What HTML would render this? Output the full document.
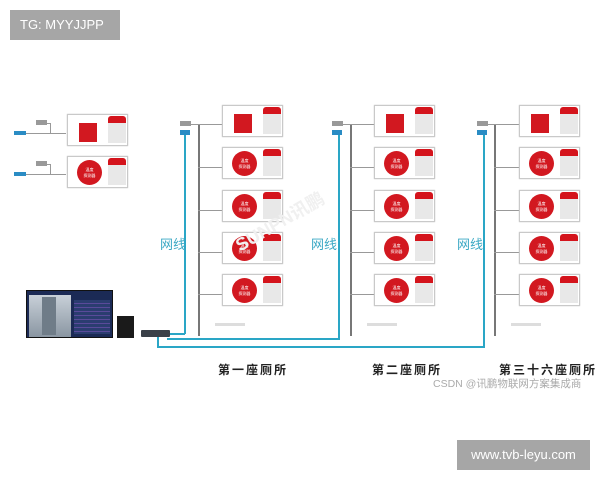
<!DOCTYPE html>
<html><head><meta charset="utf-8"><style>
body{margin:0;width:600px;height:480px;background:#fff;position:relative;overflow:hidden;font-family:"Liberation Sans","Noto Sans CJK SC",sans-serif}
div{position:absolute;box-sizing:border-box}
.box{width:61px;height:32px;border:1px solid #c9c9c9;background:#fff;box-shadow:0 0 1px #bbb}
.card{background:#e8e8e8;border-top:7px solid #d4141c;border-radius:3px 3px 0 0}
.circ{background:#d21820;border-radius:50%;color:#fff;font-size:4px;text-align:center;line-height:6px;padding-top:7px}
.sq{background:#d21820}
.vl{width:2px;background:#777}
.hl{height:1px;background:#999}
.blue{background:#2aa6c6}
.lbl{color:#3aa8c4;font-size:13px}
.cap{font-size:12px;letter-spacing:2px;color:#222;font-weight:bold}
</style></head><body>
<div style="left:10px;top:10px;width:110px;height:30px;background:#a6a6a6;color:#fff;font-size:13px;line-height:30px;padding-left:10px">TG: MYYJJPP</div>
<div style="left:457px;top:440px;width:133px;height:30px;background:#a6a6a6;color:#fff;font-size:13px;line-height:30px;text-align:center">www.tvb-leyu.com</div>

<div id="c"></div>

<!-- monitor -->
<div style="left:26px;top:290px;width:87px;height:48px;background:#1b2a55;border:1px solid #111"></div>
<div style="left:29px;top:295px;width:42px;height:42px;background:linear-gradient(#c8d0d8,#8a96a2)"></div>
<div style="left:42px;top:297px;width:14px;height:38px;background:#6f7c88"></div>
<div style="left:74px;top:300px;width:36px;height:34px;background:repeating-linear-gradient(#2b3d70 0 3px,#5a4a9a 3px 4px)"></div>
<div style="left:117px;top:316px;width:17px;height:22px;background:#1a1a1a"></div>
<div style="left:141px;top:330px;width:29px;height:7px;background:#3a4048;border-radius:1px"></div>

<div class="lbl" style="left:160px;top:234px">网线</div>
<div class="lbl" style="left:311px;top:234px">网线</div>
<div class="lbl" style="left:457px;top:234px">网线</div>
<div style="left:230px;top:208px;color:#f0f0f0;font-size:18px;font-weight:bold;transform:rotate(-30deg)">SUNPN讯鹏</div>

<div class="cap" style="left:218px;top:361px">第一座厕所</div>
<div class="cap" style="left:372px;top:361px">第二座厕所</div>
<div class="cap" style="left:499px;top:361px">第三十六座厕所</div>
<div style="left:433px;top:376px;color:#aaa;font-size:10.5px">CSDN @讯鹏物联网方案集成商</div>

<script>
var c=document.getElementById('c'),h='';
function d(cls,x,y,w,hh,extra,txt){h+='<div class="'+cls+'" style="left:'+x+'px;top:'+y+'px;width:'+w+'px;height:'+hh+'px;'+(extra||'')+'">'+(txt||'')+'</div>';}
function unit(x,y,sq){
 d('box',x,y,61,32);
 if(sq)d('sq',x+12,y+9,18,19);else d('circ',x+10,y+4,25,25,'','温度<br>探测器');
 d('card',x+41,y+2,18,27);
}
unit(67,114,true);unit(67,156,false);
[[131],[172]].forEach(function(a){var y=a[0];
 d('',14,y,12,4,'background:#2a8cc4');d('hl',26,y+2,40,1);d('',36,y-11,11,5,'background:#999');d('hl',47,y-8,3,1);d('',50,y-8,1,10,'background:#999');
});
var cols=[[198,222,180],[350,374,332],[494,519,477]];
var rows=[105,147,190,232,274];
cols.forEach(function(cl){
 d('vl',cl[0],124,2,212);
 d('',cl[2],121,11,5,'background:#999');
 d('',cl[2],130,10,5,'background:#2a8cc4');
 d('hl',cl[2]+11,124,cl[1]-cl[2]-11,1);
 rows.forEach(function(y,i){ if(i>0)d('hl',cl[0],y+20,cl[1]-cl[0],1); unit(cl[1],y,i==0);});
 d('',cl[0]+17,323,30,3,'background:#ddd');
});
d('blue',184,135,2,199);
d('blue',168,333,17,2);
d('blue',167,338,173,2);
d('blue',338,135,2,205);
d('blue',157,337,2,11);
d('blue',157,346,328,2);
d('blue',483,135,2,213);
c.innerHTML=h;
</script>
</body></html>
